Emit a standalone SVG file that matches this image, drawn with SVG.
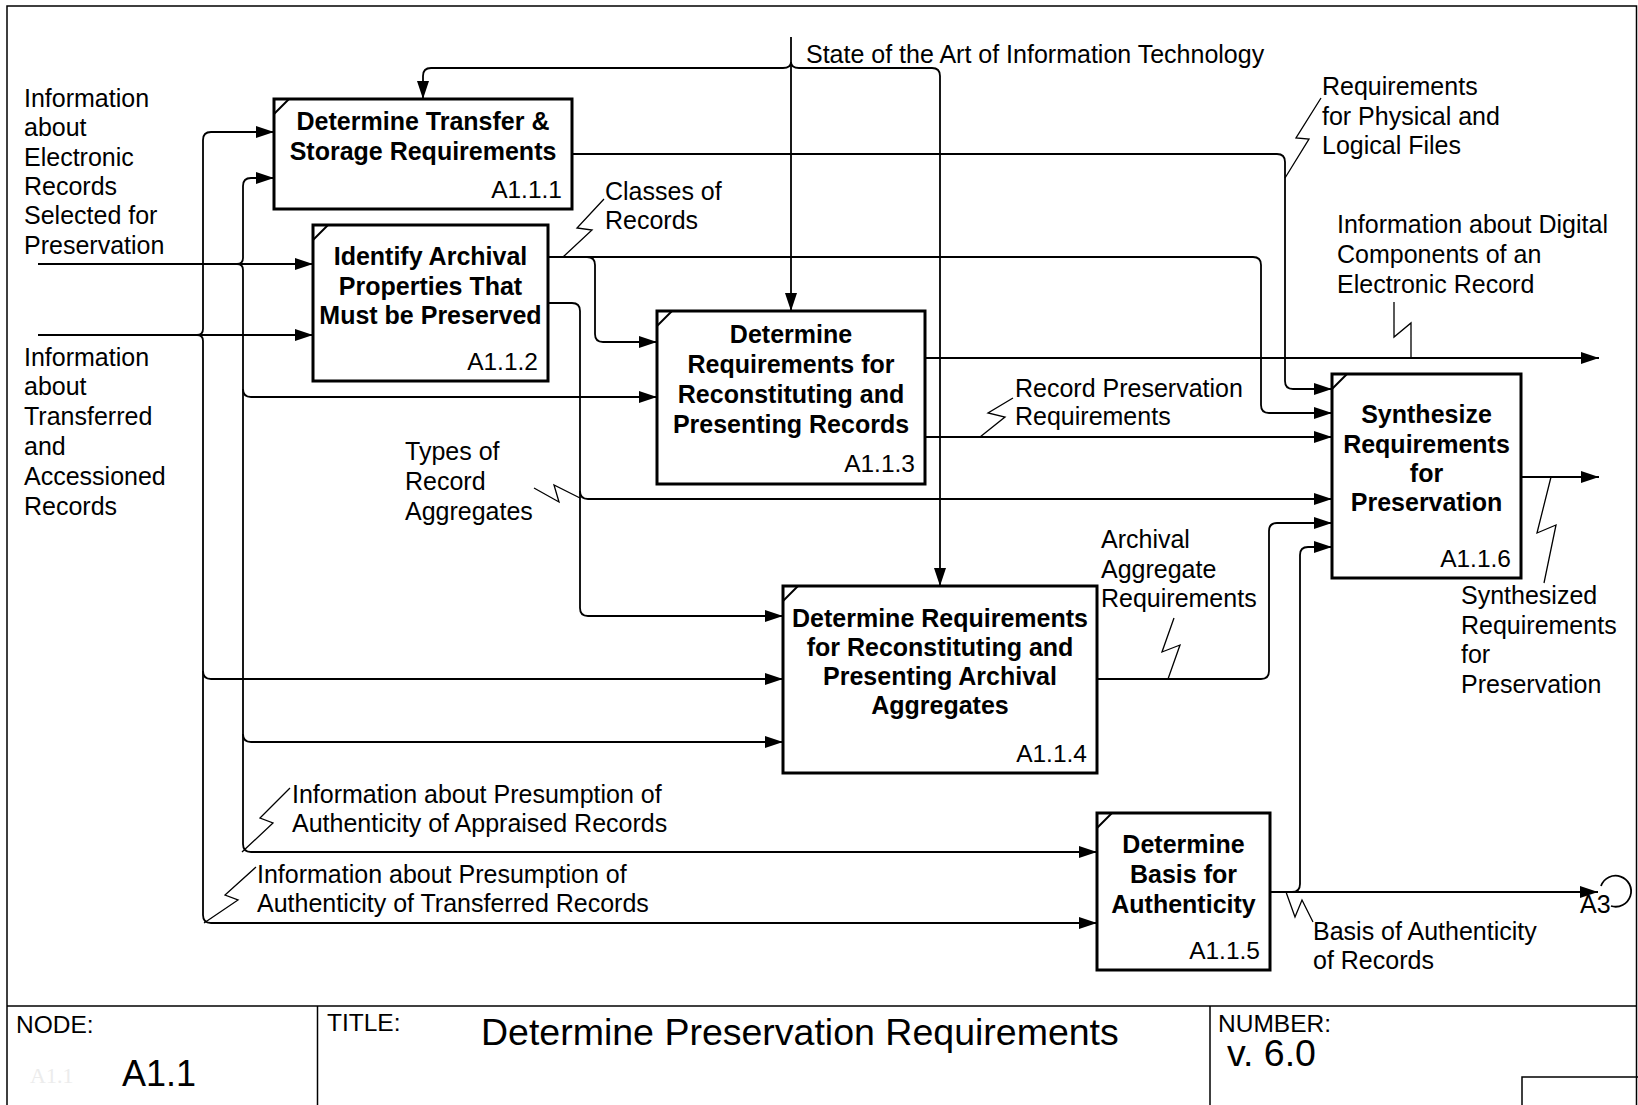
<svg xmlns="http://www.w3.org/2000/svg" width="1638" height="1105" viewBox="0 0 1638 1105">
  <defs>
    <marker id="arr" markerUnits="userSpaceOnUse" markerWidth="18" markerHeight="12" refX="18" refY="6" orient="auto">
      <path d="M0,0 L18,6 L0,12 Z" fill="#000"/>
    </marker>
    <style>
      .frame { fill: none; stroke: #000; stroke-width: 1.5; }
      .box { fill: #fff; stroke: #000; stroke-width: 3; }
      .corner { stroke: #000; stroke-width: 2; }
      .wire { fill: none; stroke: #000; stroke-width: 1.8; }
      .wire.a { marker-end: url(#arr); }
      .sq { fill: none; stroke: #000; stroke-width: 1.3; }
      text { font-family: "Liberation Sans", Arial, sans-serif; fill: #000; }
      .lbl { font-size: 25px; }
      .ttl { font-size: 25px; font-weight: bold; text-anchor: middle; }
      .num { font-size: 24.5px; text-anchor: end; }
      .hdr { font-size: 24.5px; }
      .big { font-size: 37.5px; }
    </style>
  </defs>

  <!-- page frame and title block -->
  <g id="frame">
    <rect class="frame" x="7" y="6" width="1629.5" height="1120"/>
    <line class="frame" x1="7" y1="1006" x2="1637" y2="1006"/>
    <line class="frame" x1="317.5" y1="1006" x2="317.5" y2="1105"/>
    <line class="frame" x1="1210" y1="1006" x2="1210" y2="1105"/>
    <rect class="frame" x="1522" y="1077" width="120" height="40"/>
    <text class="hdr" x="16" y="1033">NODE:</text>
    <text x="30" y="1083" style="font-family:'Liberation Serif',serif;font-size:22px;fill:#ececec">A1.1</text>
    <text class="big" x="122" y="1086" style="font-size:36px">A1.1</text>
    <text class="hdr" x="327" y="1031">TITLE:</text>
    <text class="big" x="481" y="1045">Determine Preservation Requirements</text>
    <text class="hdr" x="1218" y="1032">NUMBER:</text>
    <text class="big" x="1227" y="1066">v. 6.0</text>
  </g>

  <!-- arrows between activities -->
  <g id="connectors">
    <!-- inputs from the left -->
    <path class="wire a" d="M38,264 H313"/>
    <path class="wire a" d="M38,335 H313"/>
    <path class="wire a" d="M237,264 Q243,264 243,258 V186 Q243,178 251,178 H274"/>
    <path class="wire a" d="M237,264 Q243,264 243,270 V844 Q243,852 251,852 H1097"/>
    <path class="wire a" d="M243,389 Q243,397 251,397 H657"/>
    <path class="wire a" d="M243,734 Q243,742 251,742 H783"/>
    <path class="wire a" d="M197,335 Q203,335 203,329 V140 Q203,132 211,132 H274"/>
    <path class="wire a" d="M197,335 Q203,335 203,341 V915 Q203,923 211,923 H1097"/>
    <path class="wire a" d="M203,671 Q203,679 211,679 H783"/>

    <!-- control from the top -->
    <path class="wire a" d="M791,37 V311"/>
    <path class="wire a" d="M791,62 Q791,68 783,68 H431 Q423,68 423,76 V99"/>
    <path class="wire a" d="M791,62 Q791,68 799,68 H932 Q940,68 940,76 V586"/>

    <!-- activity outputs -->
    <path class="wire a" d="M572,154 H1277 Q1285,154 1285,162 V381 Q1285,389 1293,389 H1332"/>
    <path class="wire a" d="M548,257 H1253 Q1261,257 1261,265 V405 Q1261,413 1269,413 H1332"/>
    <path class="wire a" d="M587,257 Q595,257 595,265 V334 Q595,342 603,342 H657"/>
    <path class="wire a" d="M548,303 H572 Q580,303 580,311 V608 Q580,616 588,616 H783"/>
    <path class="wire a" d="M580,491 Q580,499 588,499 H1332"/>
    <path class="wire a" d="M925,358 H1599"/>
    <path class="wire a" d="M925,437 H1332"/>
    <path class="wire a" d="M1097,679 H1261 Q1269,679 1269,671 V531 Q1269,523 1277,523 H1332"/>
    <path class="wire a" d="M1270,892 H1598"/>
    <path class="wire a" d="M1292,892 Q1300,892 1300,884 V555 Q1300,547 1308,547 H1332"/>
    <path class="wire a" d="M1521,477 H1599"/>

    <!-- off-page reference -->
    <path class="wire" d="M1601,886 A15.5,15.5 0 1,1 1611,906"/>
    <text class="lbl" x="1580" y="913">A3</text>

    <!-- label leaders -->
    <path class="sq" d="M604,199 L577,228 L592,230 L563,257"/>
    <path class="sq" d="M1321,98 L1296,138 L1309,139 L1285,178"/>
    <path class="sq" d="M1394,302 L1394,337 L1411,323 L1411,358"/>
    <path class="sq" d="M1013,398 L988,413 L1005,417 L980,437"/>
    <path class="sq" d="M534,488 L559,502 L554,485 L580,498"/>
    <path class="sq" d="M1174,618 L1162,652 L1180,645 L1168,679"/>
    <path class="sq" d="M1551,477 L1537,533 L1556,525 L1544,583"/>
    <path class="sq" d="M290,788 L260,818 L273,823 L242,852"/>
    <path class="sq" d="M256,867 L225,895 L238,900 L204,923"/>
    <path class="sq" d="M1286,892 L1295,917 L1302,900 L1313,922"/>

    <!-- arrow labels -->
    <text class="lbl"><tspan x="24" y="107">Information</tspan><tspan x="24" y="136">about</tspan><tspan x="24" y="166">Electronic</tspan><tspan x="24" y="195">Records</tspan><tspan x="24" y="224">Selected for</tspan><tspan x="24" y="254">Preservation</tspan></text>
    <text class="lbl"><tspan x="24" y="366">Information</tspan><tspan x="24" y="395">about</tspan><tspan x="24" y="425">Transferred</tspan><tspan x="24" y="455">and</tspan><tspan x="24" y="485">Accessioned</tspan><tspan x="24" y="515">Records</tspan></text>
    <text class="lbl" x="806" y="63">State of the Art of Information Technology</text>
    <text class="lbl"><tspan x="1322" y="95">Requirements</tspan><tspan x="1322" y="125">for Physical and</tspan><tspan x="1322" y="154">Logical Files</tspan></text>
    <text class="lbl"><tspan x="605" y="200">Classes of</tspan><tspan x="605" y="229">Records</tspan></text>
    <text class="lbl"><tspan x="1337" y="233">Information about Digital</tspan><tspan x="1337" y="263">Components of an</tspan><tspan x="1337" y="293">Electronic Record</tspan></text>
    <text class="lbl"><tspan x="1015" y="397">Record Preservation</tspan><tspan x="1015" y="425">Requirements</tspan></text>
    <text class="lbl"><tspan x="405" y="460">Types of</tspan><tspan x="405" y="490">Record</tspan><tspan x="405" y="520">Aggregates</tspan></text>
    <text class="lbl"><tspan x="1101" y="548">Archival</tspan><tspan x="1101" y="578">Aggregate</tspan><tspan x="1101" y="607">Requirements</tspan></text>
    <text class="lbl"><tspan x="1461" y="604">Synthesized</tspan><tspan x="1461" y="634">Requirements</tspan><tspan x="1461" y="663">for</tspan><tspan x="1461" y="693">Preservation</tspan></text>
    <text class="lbl"><tspan x="292" y="803">Information about Presumption of</tspan><tspan x="292" y="832">Authenticity of Appraised Records</tspan></text>
    <text class="lbl"><tspan x="257" y="883">Information about Presumption of</tspan><tspan x="257" y="912">Authenticity of Transferred Records</tspan></text>
    <text class="lbl"><tspan x="1313" y="940">Basis of Authenticity</tspan><tspan x="1313" y="969">of Records</tspan></text>
  </g>

  <!-- activities -->
  <g id="A1.1.1">
    <rect class="box" x="274" y="99" width="298" height="110"/>
    <line class="corner" x1="274" y1="114" x2="289" y2="99"/>
    <text class="ttl"><tspan x="423" y="130">Determine Transfer &amp;</tspan><tspan x="423" y="159.5">Storage Requirements</tspan></text>
    <text class="num" x="562" y="198">A1.1.1</text>
  </g>
  <g id="A1.1.2">
    <rect class="box" x="313" y="225" width="235" height="156"/>
    <line class="corner" x1="313" y1="240" x2="328" y2="225"/>
    <text class="ttl"><tspan x="430.5" y="265">Identify Archival</tspan><tspan x="430.5" y="295">Properties That</tspan><tspan x="430.5" y="324">Must be Preserved</tspan></text>
    <text class="num" x="538" y="370">A1.1.2</text>
  </g>
  <g id="A1.1.3">
    <rect class="box" x="657" y="311" width="268" height="173"/>
    <line class="corner" x1="657" y1="326" x2="672" y2="311"/>
    <text class="ttl"><tspan x="791" y="343">Determine</tspan><tspan x="791" y="373">Requirements for</tspan><tspan x="791" y="403">Reconstituting and</tspan><tspan x="791" y="433">Presenting Records</tspan></text>
    <text class="num" x="915" y="472">A1.1.3</text>
  </g>
  <g id="A1.1.4">
    <rect class="box" x="783" y="586" width="314" height="187"/>
    <line class="corner" x1="783" y1="601" x2="798" y2="586"/>
    <text class="ttl"><tspan x="940" y="627">Determine Requirements</tspan><tspan x="940" y="656">for Reconstituting and</tspan><tspan x="940" y="685">Presenting Archival</tspan><tspan x="940" y="714">Aggregates</tspan></text>
    <text class="num" x="1087" y="762">A1.1.4</text>
  </g>
  <g id="A1.1.5">
    <rect class="box" x="1097" y="813" width="173" height="157"/>
    <line class="corner" x1="1097" y1="828" x2="1112" y2="813"/>
    <text class="ttl"><tspan x="1183.5" y="853">Determine</tspan><tspan x="1183.5" y="883">Basis for</tspan><tspan x="1183.5" y="913">Authenticity</tspan></text>
    <text class="num" x="1260" y="959">A1.1.5</text>
  </g>
  <g id="A1.1.6">
    <rect class="box" x="1332" y="374" width="189" height="204"/>
    <line class="corner" x1="1332" y1="389" x2="1347" y2="374"/>
    <text class="ttl"><tspan x="1426.5" y="423">Synthesize</tspan><tspan x="1426.5" y="453">Requirements</tspan><tspan x="1426.5" y="482">for</tspan><tspan x="1426.5" y="511">Preservation</tspan></text>
    <text class="num" x="1511" y="567">A1.1.6</text>
  </g>
</svg>
